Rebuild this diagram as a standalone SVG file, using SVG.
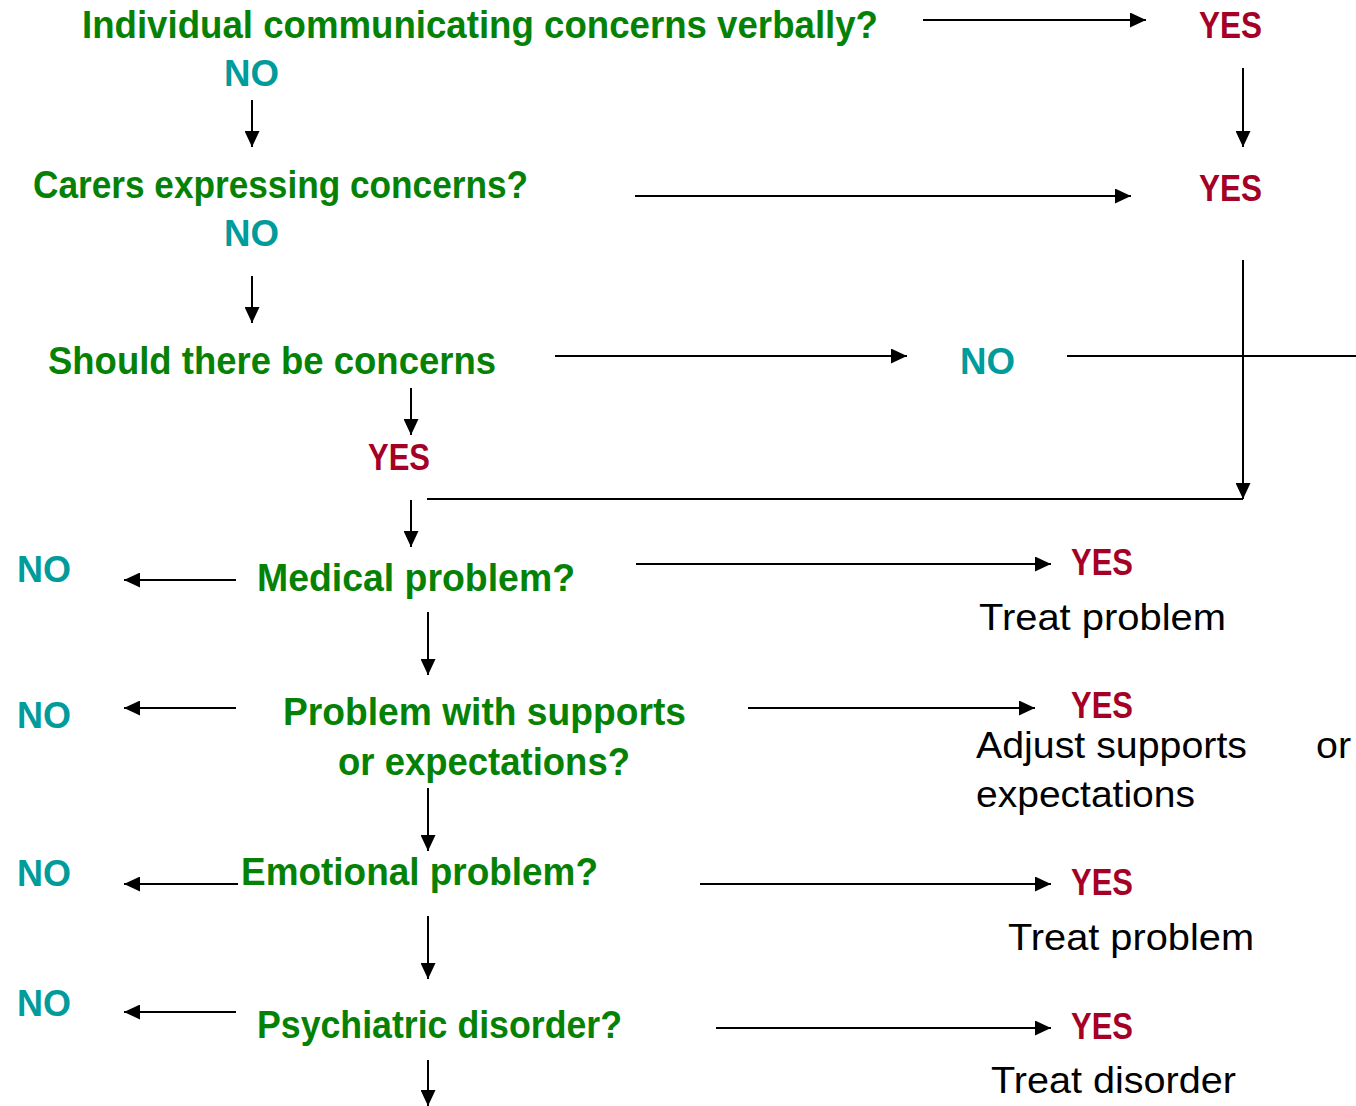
<svg xmlns="http://www.w3.org/2000/svg" width="1356" height="1106" viewBox="0 0 1356 1106">
<defs>
<marker id="ah" markerUnits="userSpaceOnUse" markerWidth="16" markerHeight="15" refX="16" refY="7.5" orient="auto">
<path d="M0,0 L16,7.5 L0,15 z" fill="#000"/>
</marker>
<style>
.q{font-family:"Liberation Sans",Arial,sans-serif;font-weight:bold;font-size:38px;fill:#058205}
.no{font-family:"Liberation Sans",Arial,sans-serif;font-weight:bold;font-size:37px;fill:#009b9b}
.yes{font-family:"Liberation Sans",Arial,sans-serif;font-weight:bold;font-size:37px;fill:#a50026}
.t{font-family:"Liberation Sans",Arial,sans-serif;font-size:36px;fill:#000}
.c line{stroke:#000;stroke-width:2}
.a{marker-end:url(#ah)}
</style>
</defs>
<rect width="1356" height="1106" fill="#fff"/>
<g class="c" id="connectors">
<line class="a" x1="923" y1="20" x2="1146" y2="20"/>
<line class="a" x1="1243" y1="68" x2="1243" y2="147"/>
<line class="a" x1="252" y1="100" x2="252" y2="147"/>
<line class="a" x1="635" y1="196" x2="1131" y2="196"/>
<line class="a" x1="252" y1="276" x2="252" y2="323"/>
<line class="a" x1="1243" y1="260" x2="1243" y2="499"/>
<line class="a" x1="555" y1="356" x2="907" y2="356"/>
<line x1="1067" y1="356" x2="1356" y2="356"/>
<line class="a" x1="411" y1="388" x2="411" y2="435"/>
<line x1="427" y1="499" x2="1243" y2="499"/>
<line class="a" x1="411" y1="500" x2="411" y2="547"/>
<line class="a" x1="236" y1="580" x2="124" y2="580"/>
<line class="a" x1="636" y1="564" x2="1051" y2="564"/>
<line class="a" x1="428" y1="612" x2="428" y2="675"/>
<line class="a" x1="236" y1="708" x2="124" y2="708"/>
<line class="a" x1="748" y1="708" x2="1035" y2="708"/>
<line class="a" x1="428" y1="788" x2="428" y2="851"/>
<line class="a" x1="238" y1="884" x2="124" y2="884"/>
<line class="a" x1="700" y1="884" x2="1051" y2="884"/>
<line class="a" x1="428" y1="916" x2="428" y2="979"/>
<line class="a" x1="236" y1="1012" x2="124" y2="1012"/>
<line class="a" x1="716" y1="1028" x2="1051" y2="1028"/>
<line class="a" x1="428" y1="1060" x2="428" y2="1106"/>
</g>
<g id="q1"><text class="q" x="82" y="38" textLength="796" lengthAdjust="spacingAndGlyphs">Individual communicating concerns verbally?</text></g>
<g id="yes1"><text class="yes" x="1199" y="38" textLength="63" lengthAdjust="spacingAndGlyphs">YES</text></g>
<g id="no1"><text class="no" x="224" y="86" textLength="55" lengthAdjust="spacingAndGlyphs">NO</text></g>
<g id="q2"><text class="q" x="33" y="198" textLength="495" lengthAdjust="spacingAndGlyphs">Carers expressing concerns?</text></g>
<g id="yes2"><text class="yes" x="1199" y="201" textLength="63" lengthAdjust="spacingAndGlyphs">YES</text></g>
<g id="no2"><text class="no" x="224" y="246" textLength="55" lengthAdjust="spacingAndGlyphs">NO</text></g>
<g id="q3"><text class="q" x="48" y="374" textLength="448" lengthAdjust="spacingAndGlyphs">Should there be concerns</text></g>
<g id="no3"><text class="no" x="960" y="374" textLength="55" lengthAdjust="spacingAndGlyphs">NO</text></g>
<g id="yes3"><text class="yes" x="368" y="470" textLength="62" lengthAdjust="spacingAndGlyphs">YES</text></g>
<g id="q4"><text class="q" x="257" y="591" textLength="318" lengthAdjust="spacingAndGlyphs">Medical problem?</text></g>
<g id="no4"><text class="no" x="17" y="582" textLength="54" lengthAdjust="spacingAndGlyphs">NO</text></g>
<g id="yes4"><text class="yes" x="1071" y="575" textLength="62" lengthAdjust="spacingAndGlyphs">YES</text></g>
<g id="r4"><text class="t" x="979" y="630" textLength="247" lengthAdjust="spacingAndGlyphs">Treat problem</text></g>
<g id="q5"><text class="q" x="283" y="725" textLength="403" lengthAdjust="spacingAndGlyphs">Problem with supports</text><text class="q" x="338" y="775" textLength="292" lengthAdjust="spacingAndGlyphs">or expectations?</text></g>
<g id="no5"><text class="no" x="17" y="728" textLength="54" lengthAdjust="spacingAndGlyphs">NO</text></g>
<g id="yes5"><text class="yes" x="1071" y="718" textLength="62" lengthAdjust="spacingAndGlyphs">YES</text></g>
<g id="r5"><text class="t" x="976" y="758" textLength="271" lengthAdjust="spacingAndGlyphs">Adjust supports</text><text class="t" x="1316" y="758" textLength="35" lengthAdjust="spacingAndGlyphs">or</text><text class="t" x="976" y="807" textLength="219" lengthAdjust="spacingAndGlyphs">expectations</text></g>
<g id="q6"><text class="q" x="241" y="885" textLength="357" lengthAdjust="spacingAndGlyphs">Emotional problem?</text></g>
<g id="no6"><text class="no" x="17" y="886" textLength="54" lengthAdjust="spacingAndGlyphs">NO</text></g>
<g id="yes6"><text class="yes" x="1071" y="895" textLength="62" lengthAdjust="spacingAndGlyphs">YES</text></g>
<g id="r6"><text class="t" x="1008" y="950" textLength="246" lengthAdjust="spacingAndGlyphs">Treat problem</text></g>
<g id="q7"><text class="q" x="257" y="1038" textLength="365" lengthAdjust="spacingAndGlyphs">Psychiatric disorder?</text></g>
<g id="no7"><text class="no" x="17" y="1016" textLength="54" lengthAdjust="spacingAndGlyphs">NO</text></g>
<g id="yes7"><text class="yes" x="1071" y="1039" textLength="62" lengthAdjust="spacingAndGlyphs">YES</text></g>
<g id="r7"><text class="t" x="991" y="1093" textLength="245" lengthAdjust="spacingAndGlyphs">Treat disorder</text></g>
</svg>
